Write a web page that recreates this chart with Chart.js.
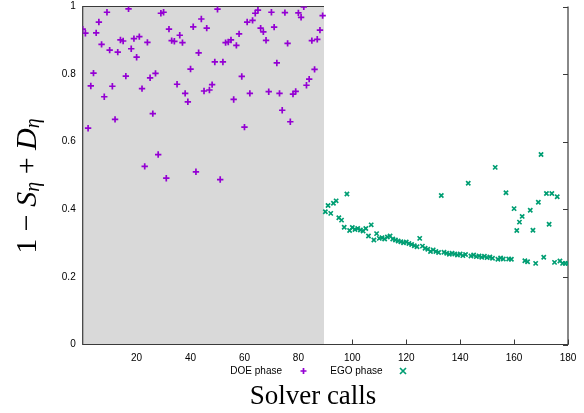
<!DOCTYPE html>
<html><head><meta charset="utf-8">
<script src="https://cdn.jsdelivr.net/npm/chart.js@4/dist/chart.umd.min.js"></script>
<style>html,body{margin:0;padding:0;background:#fff}#wrap{width:584px;height:413px}</style>
</head><body><div id="wrap"><canvas id="c" width="584" height="413"></canvas></div>
<script>
// ---- data ----
const doeCalls = [0,1,2,3,4,5,6,7,8,9,10,11,12,13,14,15,16,17,18,19,20,21,22,23,24,25,26,27,28,29,30,31,32,33,34,35,36,37,38,39,40,41,42,43,44,45,46,47,48,49,50,51,52,53,54,55,56,57,58,59,60,61,62,63,64,65,66,67,68,69,70,71,72,73,74,75,76,77,78,79,80,81,82,83,84,85,86,87,88,89];
const doeValues = [0.933,0.921,0.640,0.765,0.803,0.922,0.954,0.888,0.733,0.983,0.871,0.764,0.666,0.865,0.901,0.898,0.794,0.993,0.875,0.905,0.850,0.911,0.757,0.527,0.894,0.789,0.683,0.802,0.562,0.980,0.983,0.492,0.933,0.899,0.897,0.770,0.915,0.893,0.743,0.718,0.815,0.940,0.511,0.863,0.963,0.750,0.936,0.753,0.769,0.836,0.992,0.488,0.836,0.893,0.895,0.901,0.725,0.885,0.919,0.793,0.643,0.954,0.743,0.959,0.980,0.989,0.936,0.925,0.900,0.748,0.983,0.939,0.833,0.743,0.693,0.982,0.891,0.659,0.741,0.749,0.981,0.968,0.999,0.767,0.785,0.899,0.814,0.903,0.930,0.973];
const egoCalls = [90,91,92,93,94,95,96,97,98,99,100,101,102,103,104,105,106,107,108,109,110,111,112,113,114,115,116,117,118,119,120,121,122,123,124,125,126,127,128,129,130,131,132,133,134,135,136,137,138,139,140,141,142,143,144,145,146,147,148,149,150,151,152,153,154,155,156,157,158,159,160,161,162,163,164,165,166,167,168,169,170,171,172,173,174,175,176,177,178,179,180];
const egoValues = [0.393,0.411,0.388,0.418,0.425,0.375,0.368,0.347,0.445,0.337,0.346,0.340,0.343,0.339,0.336,0.343,0.321,0.354,0.309,0.328,0.314,0.316,0.312,0.318,0.321,0.312,0.309,0.306,0.304,0.301,0.303,0.299,0.296,0.292,0.289,0.314,0.291,0.285,0.282,0.275,0.280,0.275,0.272,0.441,0.273,0.270,0.267,0.270,0.268,0.265,0.268,0.263,0.266,0.477,0.262,0.265,0.260,0.262,0.258,0.261,0.257,0.259,0.255,0.524,0.252,0.256,0.253,0.449,0.253,0.252,0.402,0.337,0.362,0.379,0.248,0.245,0.397,0.338,0.240,0.421,0.562,0.258,0.447,0.356,0.447,0.243,0.437,0.247,0.240,0.240,0.240];
const xTickValues = [20,40,60,80,100,120,140,160,180];
const yTickValues = [0,0.2,0.4,0.6,0.8,1];
const seriesNames = ['DOE phase','EGO phase'];
const shadeEnd = 89.5;
const xTitle = 'Solver calls';

// ---- styles ----
const DOE_COLOR = '#9400d3';
const EGO_COLOR = '#009e73';
const SANS = '"Liberation Sans", Arial, sans-serif';
const SERIF = '"Liberation Serif", "Times New Roman", serif';
const BORDER = '#3a3a3a';

const toPts = (xs, ys) => xs.map((x, i) => ({x: x, y: ys[i]}));

function drawMarker(ctx, style, x, y, r, color) {
  ctx.save();
  ctx.strokeStyle = color; ctx.lineWidth = 1.7;
  ctx.beginPath();
  if (style === 'cross') {
    ctx.moveTo(x - r, y); ctx.lineTo(x + r, y);
    ctx.moveTo(x, y - r); ctx.lineTo(x, y + r);
  } else {
    ctx.moveTo(x - r, y - r); ctx.lineTo(x + r, y + r);
    ctx.moveTo(x - r, y + r); ctx.lineTo(x + r, y - r);
  }
  ctx.stroke();
  ctx.restore();
}

const framePlugin = {
  id: 'frame',
  beforeDatasetsDraw(chart) {
    const {ctx, chartArea: a, scales: {x, y}} = chart;
    ctx.save();
    // inward tick marks (bottom / right); the ones inside the shading are covered
    ctx.strokeStyle = BORDER; ctx.lineWidth = 1;
    ctx.beginPath();
    xTickValues.forEach(v => {
      const px = Math.round(x.getPixelForValue(v)) + 0.5;
      ctx.moveTo(px, a.bottom); ctx.lineTo(px, a.bottom - 5);
    });
    yTickValues.forEach(v => {
      const py = Math.round(y.getPixelForValue(v)) + 0.5;
      ctx.moveTo(a.right, py); ctx.lineTo(a.right - 5, py);
    });
    ctx.stroke();
    // DOE shading
    ctx.fillStyle = '#d9d9d9';
    const xe = x.getPixelForValue(shadeEnd);
    ctx.fillRect(a.left, a.top, xe - a.left, a.bottom - a.top);
    // border: left, bottom, right, and top only over the shaded block
    ctx.strokeStyle = BORDER; ctx.lineWidth = 1.2;
    ctx.beginPath();
    ctx.moveTo(xe, a.top); ctx.lineTo(a.left, a.top); ctx.lineTo(a.left, a.bottom);
    ctx.lineTo(a.right, a.bottom); ctx.lineTo(a.right, a.top);
    ctx.stroke();
    ctx.restore();
  },
  afterDraw(chart) {
    const {ctx} = chart;
    ctx.save();
    // legend
    ctx.font = '10px ' + SANS;
    ctx.fillStyle = '#000';
    ctx.textAlign = 'right'; ctx.textBaseline = 'middle';
    const ly = 371;
    ctx.fillText(seriesNames[0], 282, ly);
    drawMarker(ctx, 'cross', 303.5, ly, 3, DOE_COLOR);
    ctx.fillText(seriesNames[1], 382.5, ly);
    drawMarker(ctx, 'crossRot', 403, ly, 3, EGO_COLOR);
    // x title
    ctx.font = '27px ' + SERIF;
    ctx.textAlign = 'center'; ctx.textBaseline = 'middle';
    ctx.fillText(xTitle, 313, 397);
    // y title: 1 − S_η + D_η
    const parts = [
      {t: '1', f: '30px ' + SERIF, dy: 0},
      {t: ' \u2212 ', f: '30px ' + SERIF, dy: 0},
      {t: 'S', f: 'italic 30px ' + SERIF, dy: 0},
      {t: '\u03B7', f: 'italic 20px ' + SERIF, dy: 6},
      {t: ' + ', f: '30px ' + SERIF, dy: 0},
      {t: 'D', f: 'italic 30px ' + SERIF, dy: 0},
      {t: '\u03B7', f: 'italic 20px ' + SERIF, dy: 6}
    ];
    let total = 0;
    parts.forEach(p => { ctx.font = p.f; p.w = ctx.measureText(p.t).width; total += p.w; });
    ctx.translate(28, 186);
    ctx.rotate(-Math.PI / 2);
    ctx.textAlign = 'left'; ctx.textBaseline = 'middle';
    let cx = -total / 2;
    parts.forEach(p => { ctx.font = p.f; ctx.fillText(p.t, cx, p.dy); cx += p.w; });
    ctx.restore();
  }
};

new Chart(document.getElementById('c'), {
  type: 'scatter',
  data: {
    datasets: [
      {label: seriesNames[0], data: toPts(doeCalls, doeValues), pointStyle: 'cross',
       radius: 3.2, borderColor: DOE_COLOR, backgroundColor: DOE_COLOR, borderWidth: 1.7},
      {label: seriesNames[1], data: toPts(egoCalls, egoValues), pointStyle: 'crossRot',
       radius: 3, borderColor: EGO_COLOR, backgroundColor: EGO_COLOR, borderWidth: 1.7}
    ]
  },
  options: {
    responsive: false, animation: false, devicePixelRatio: 1,
    layout: {padding: {top: 6.5, right: 16, left: 0, bottom: 0}},
    plugins: {legend: {display: false}, tooltip: {enabled: false}},
    scales: {
      x: {
        type: 'linear', min: 0, max: 180,
        afterBuildTicks: s => { s.ticks = xTickValues.map(v => ({value: v})); },
        afterFit: s => { s.height = 68.5; s.paddingLeft = 0; s.paddingRight = 0; },
        grid: {display: false, drawTicks: false}, border: {display: false},
        ticks: {padding: 8, color: '#000', font: {family: SANS, size: 10}, maxRotation: 0, autoSkip: false,
                callback: v => String(v)}
      },
      y: {
        type: 'linear', min: 0, max: 1,
        afterBuildTicks: s => { s.ticks = yTickValues.map(v => ({value: v})); },
        afterFit: s => { s.width = 82.7; s.paddingTop = 0; s.paddingBottom = 0; },
        grid: {display: false, drawTicks: false}, border: {display: false},
        ticks: {padding: 7, color: '#000', font: {family: SANS, size: 10}, autoSkip: false,
                callback: v => String(Math.round(v * 10) / 10)}
      }
    }
  },
  plugins: [framePlugin]
});
</script>
</body></html>
